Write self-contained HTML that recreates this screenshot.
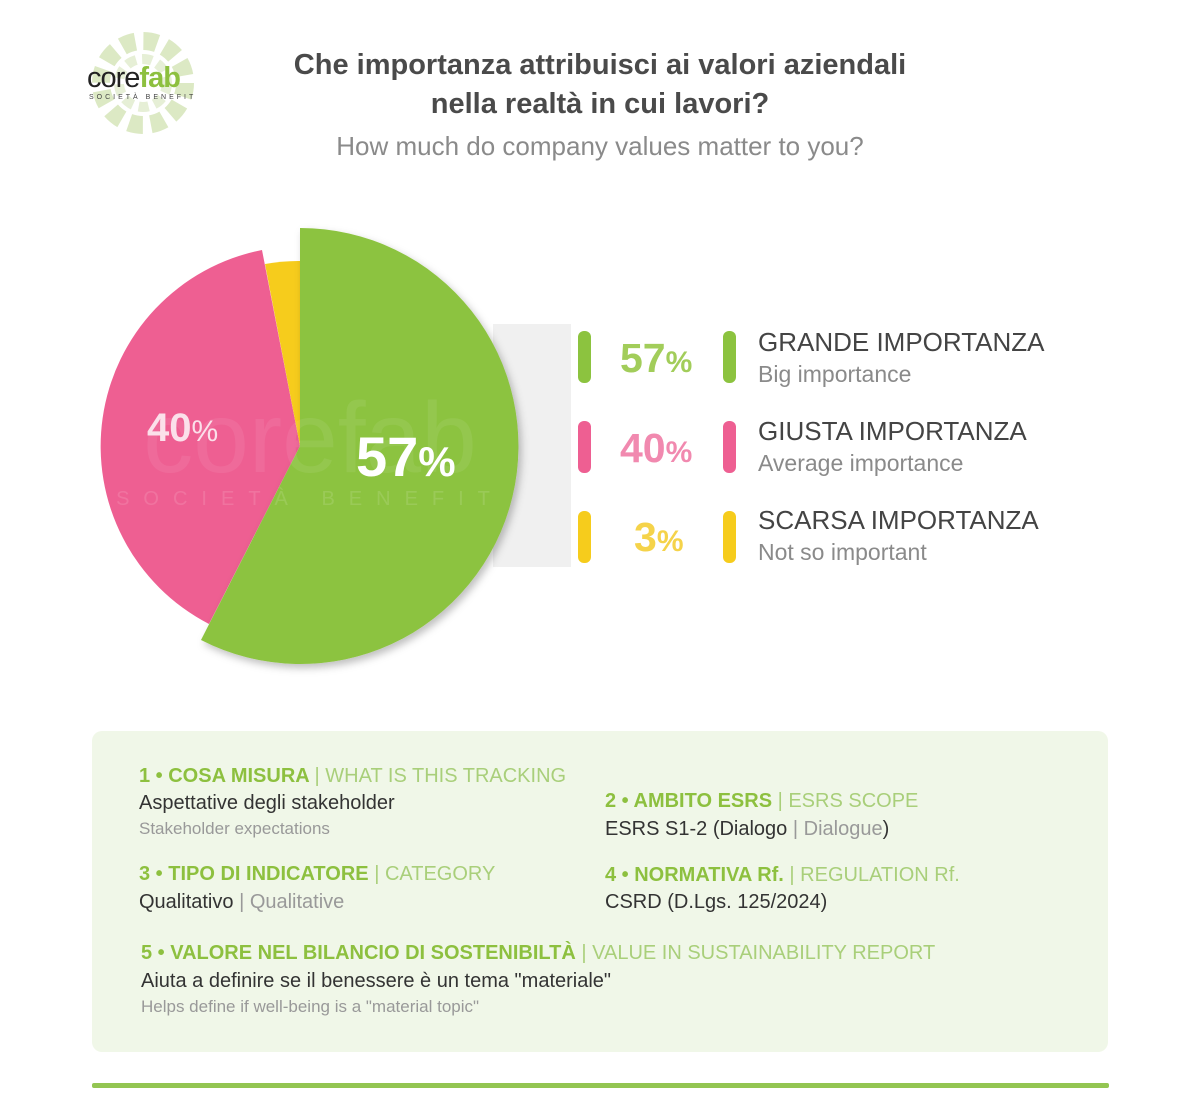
<!DOCTYPE html>
<html><head><meta charset="utf-8"><style>
body{margin:0;background:#fff;width:1200px;height:1109px;position:relative;overflow:hidden;font-family:"Liberation Sans",sans-serif}
.a{position:absolute;white-space:nowrap}
.bar{position:absolute;width:13px;height:52px;border-radius:6px}
.g{color:#8dc03f}.gl{color:#a9cf7a}
</style></head><body>
<svg class="a" style="left:85px;top:28px" width="120" height="110">
<circle cx="58" cy="55" r="42" fill="none" stroke="#dce9c4" stroke-width="18" stroke-dasharray="14 8"/>
<circle cx="58" cy="55" r="24" fill="none" stroke="#e6efd6" stroke-width="10" stroke-dasharray="10 6"/>
</svg>
<div class="a" style="left:87px;top:62px;font-size:29px;letter-spacing:-1px;color:#222">core<b style="color:#8dc03f">fab</b></div>
<div class="a" style="left:89px;top:94px;font-size:7px;letter-spacing:3px;color:#444">SOCIETÀ BENEFIT</div>
<div class="a" style="left:0;width:1200px;text-align:center;top:46px;font-size:29px;font-weight:bold;color:#4a4a4a;line-height:39px">Che importanza attribuisci ai valori aziendali<br>nella realtà in cui lavori?</div>
<div class="a" style="left:0;width:1200px;text-align:center;top:131px;font-size:26px;color:#8a8a8a">How much do company values matter to you?</div>
<div class="a" style="left:493px;top:324px;width:78px;height:243px;background:#f0f0f0"></div>
<svg class="a" style="left:0;top:0" width="600" height="700">
<defs><filter id="s"><feDropShadow dx="3" dy="4" stdDeviation="4" flood-opacity="0.25"/></filter></defs>
<path d="M300,446 L209,624 A200,200 0 0 1 262,250 Z" fill="#ee5f92"/>
<path d="M300,446 L265,264 A185,185 0 0 1 300,261 Z" fill="#f6cc1c"/>
<path d="M300,446 L300,228 A218,218 0 1 1 201,640 Z" fill="#8cc33f" filter="url(#s)"/>
<text x="310" y="472" font-size="100" fill="#fff" opacity="0.07" text-anchor="middle" font-family="Liberation Sans">corefab</text>
<text x="310" y="505" font-size="20" fill="#fff" opacity="0.12" text-anchor="middle" letter-spacing="14" font-family="Liberation Sans">SOCIETÀ BENEFIT</text>
<text x="147" y="441" font-size="40" font-weight="bold" fill="#fbe0ea" font-family="Liberation Sans">40<tspan font-size="30" font-weight="normal">%</tspan></text>
<text x="356" y="476" font-size="56" font-weight="bold" fill="#fff" font-family="Liberation Sans">57<tspan font-size="42">%</tspan></text>
</svg>
<div class="bar" style="left:578px;top:331px;background:#8cc33f"></div>
<div class="bar" style="left:723px;top:331px;background:#8cc33f"></div>
<div class="bar" style="left:578px;top:421px;background:#ee5f92"></div>
<div class="bar" style="left:723px;top:421px;background:#ee5f92"></div>
<div class="bar" style="left:578px;top:511px;background:#f6cc1c"></div>
<div class="bar" style="left:723px;top:511px;background:#f6cc1c"></div>
<div class="a" style="left:620px;top:335px;font-size:41px;font-weight:bold;color:#a2cd5a">57<span style="font-size:30px">%</span></div>
<div class="a" style="left:620px;top:425px;font-size:41px;font-weight:bold;color:#f189af">40<span style="font-size:30px">%</span></div>
<div class="a" style="left:634px;top:514px;font-size:41px;font-weight:bold;color:#f5d34a">3<span style="font-size:30px">%</span></div>
<div class="a" style="left:758px;top:327px;font-size:26px;color:#444">GRANDE IMPORTANZA</div>
<div class="a" style="left:758px;top:361px;font-size:23px;color:#8a8a8a">Big importance</div>
<div class="a" style="left:758px;top:416px;font-size:26px;color:#444">GIUSTA IMPORTANZA</div>
<div class="a" style="left:758px;top:450px;font-size:23px;color:#8a8a8a">Average importance</div>
<div class="a" style="left:758px;top:505px;font-size:26px;color:#444">SCARSA IMPORTANZA</div>
<div class="a" style="left:758px;top:539px;font-size:23px;color:#8a8a8a">Not so important</div>
<div class="a" style="left:92px;top:731px;width:1016px;height:321px;background:#f0f7e8;border-radius:10px"></div>
<div class="a g" style="left:139px;top:765px;font-size:20px;font-weight:bold">1 • COSA MISURA <span class="gl" style="font-weight:normal">| WHAT IS THIS TRACKING</span></div>
<div class="a" style="left:139px;top:792px;font-size:20px;color:#333">Aspettative degli stakeholder</div>
<div class="a" style="left:139px;top:819px;font-size:17px;color:#999">Stakeholder expectations</div>
<div class="a g" style="left:605px;top:790px;font-size:20px;font-weight:bold">2 • AMBITO ESRS <span class="gl" style="font-weight:normal">| ESRS SCOPE</span></div>
<div class="a" style="left:605px;top:818px;font-size:20px;color:#333">ESRS S1-2 (Dialogo <span style="color:#999">| Dialogue</span>)</div>
<div class="a g" style="left:139px;top:863px;font-size:20px;font-weight:bold">3 • TIPO DI INDICATORE <span class="gl" style="font-weight:normal">| CATEGORY</span></div>
<div class="a" style="left:139px;top:891px;font-size:20px;color:#333">Qualitativo <span style="color:#999">| Qualitative</span></div>
<div class="a g" style="left:605px;top:864px;font-size:20px;font-weight:bold">4 • NORMATIVA Rf. <span class="gl" style="font-weight:normal">| REGULATION Rf.</span></div>
<div class="a" style="left:605px;top:891px;font-size:20px;color:#333">CSRD (D.Lgs. 125/2024)</div>
<div class="a g" style="left:141px;top:942px;font-size:20px;font-weight:bold">5 • VALORE NEL BILANCIO DI SOSTENIBILTÀ <span class="gl" style="font-weight:normal">| VALUE IN SUSTAINABILITY REPORT</span></div>
<div class="a" style="left:141px;top:970px;font-size:20px;color:#333">Aiuta a definire se il benessere è un tema "materiale"</div>
<div class="a" style="left:141px;top:997px;font-size:17px;color:#999">Helps define if well-being is a "material topic"</div>
<div class="a" style="left:92px;top:1083px;width:1017px;height:5px;background:#93c552;border-radius:2px"></div>
</body></html>
